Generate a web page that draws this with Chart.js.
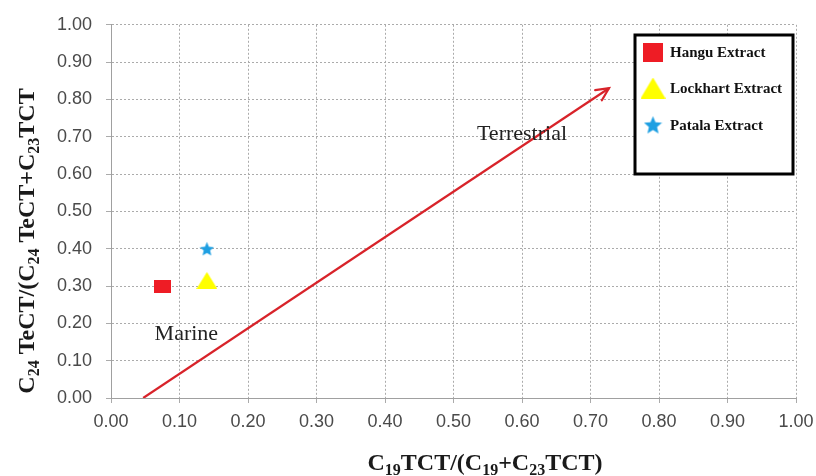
<!DOCTYPE html>
<html>
<head>
<meta charset="utf-8">
<script src="https://cdn.jsdelivr.net/npm/chart.js@4"></script>
<style>
  html, body { margin: 0; padding: 0; background: #fff; }
  #wrap { width: 816px; height: 476px; }
</style>
</head>
<body>
<div id="wrap"><canvas id="biomarkerChart"></canvas></div>
<script>
// data
const seriesNames = ['Hangu Extract', 'Lockhart Extract', 'Patala Extract'];
const hanguX = [0.075];
const hanguY = [0.30];
const lockhartX = [0.14];
const lockhartY = [0.315];
const patalaX = [0.14];
const patalaY = [0.40];
// red trend arrow, start and end
const arrowX = [0.047, 0.727];
const arrowY = [0.0, 0.83];
// annotation labels
const zoneNames = ['Terrestrial', 'Marine'];
const zoneX = [0.6, 0.11];
const zoneY = [0.706, 0.17];

const RED = '#ee1c25';
const YELLOW = '#ffff00';
const BLUE = '#1e9fe2';

function toPts(xs, ys) {
  return xs.map((x, i) => ({x: x, y: ys[i]}));
}

// little canvases used as point styles
function rectImg(w, h, color) {
  const c = document.createElement('canvas');
  c.width = w; c.height = h;
  const g = c.getContext('2d');
  g.fillStyle = color;
  g.fillRect(0, 0, w, h);
  return c;
}
function triImg(w, h, color) {
  const c = document.createElement('canvas');
  c.width = w; c.height = h;
  const g = c.getContext('2d');
  g.fillStyle = color;
  g.beginPath();
  g.moveTo(w / 2, 0);
  g.lineTo(w, h);
  g.lineTo(0, h);
  g.closePath();
  g.fill();
  return c;
}
function starImg(size, color) {
  const c = document.createElement('canvas');
  c.width = size; c.height = size;
  const g = c.getContext('2d');
  const cx = size / 2, cy = size / 2 + 0.8, R = size / 2, r = R * 0.45;
  g.fillStyle = color;
  g.beginPath();
  for (let i = 0; i < 10; i++) {
    const rad = i % 2 === 0 ? R : r;
    const a = -Math.PI / 2 + i * Math.PI / 5;
    const px = cx + rad * Math.cos(a), py = cy + rad * Math.sin(a);
    if (i === 0) g.moveTo(px, py); else g.lineTo(px, py);
  }
  g.closePath();
  g.fill();
  return c;
}

const markerImgs = [rectImg(17, 13, RED), triImg(21, 17, YELLOW), starImg(15, BLUE)];
const legendImgs = [rectImg(20, 19, RED), triImg(25, 21, YELLOW), starImg(19, BLUE)];

// draw text with subscript parts: parts = [[text, isSub], ...]
function richWidth(ctx, parts, mainFont, subFont) {
  let w = 0;
  parts.forEach(p => { ctx.font = p[1] ? subFont : mainFont; w += ctx.measureText(p[0]).width; });
  return w;
}
function drawRich(ctx, parts, x, y, mainFont, subFont, subShift) {
  let cx = x;
  parts.forEach(p => {
    ctx.font = p[1] ? subFont : mainFont;
    ctx.fillText(p[0], cx, p[1] ? y + subShift : y);
    cx += ctx.measureText(p[0]).width;
  });
}

const yTitle = [['C', false], ['24', true], [' TeCT/(C', false], ['24', true], [' TeCT+C', false], ['23', true], ['TCT', false]];
const xTitle = [['C', false], ['19', true], ['TCT/(C', false], ['19', true], ['+C', false], ['23', true], ['TCT)', false]];

const extrasPlugin = {
  id: 'extras',
  afterDatasetsDraw(chart) {
    const ctx = chart.ctx;
    const xs = chart.scales.x, ys = chart.scales.y;
    ctx.save();

    // arrow head at the end of the trend line
    const pts = chart.getDatasetMeta(3).data;
    const a = pts[0], b = pts[pts.length - 1];
    const ang = Math.atan2(b.y - a.y, b.x - a.x);
    ctx.strokeStyle = '#d8232a';
    ctx.lineWidth = 2.2;
    ctx.lineCap = 'round';
    ctx.beginPath();
    ctx.moveTo(b.x - 14 * Math.cos(ang - 0.45), b.y - 14 * Math.sin(ang - 0.45));
    ctx.lineTo(b.x, b.y);
    ctx.lineTo(b.x - 14 * Math.cos(ang + 0.45), b.y - 14 * Math.sin(ang + 0.45));
    ctx.stroke();

    // zone labels
    ctx.fillStyle = '#222';
    ctx.font = '22px "Liberation Serif"';
    ctx.textAlign = 'center';
    ctx.textBaseline = 'middle';
    zoneNames.forEach((t, i) => {
      ctx.fillText(t, xs.getPixelForValue(zoneX[i]), ys.getPixelForValue(zoneY[i]));
    });

    // legend box
    const lx = 635, ly = 35, lw = 158, lh = 139;
    ctx.fillStyle = '#fff';
    ctx.fillRect(lx, ly, lw, lh);
    ctx.strokeStyle = '#000';
    ctx.lineWidth = 3;
    ctx.strokeRect(lx, ly, lw, lh);
    const rowY = [52, 88, 125];
    ctx.textAlign = 'left';
    ctx.fillStyle = '#111';
    ctx.font = 'bold 15px "Liberation Serif"';
    seriesNames.forEach((n, i) => {
      const img = legendImgs[i];
      ctx.drawImage(img, 653 - img.width / 2, rowY[i] - img.height / 2);
      ctx.fillText(n, 670, rowY[i] + 1);
    });

    // axis titles
    ctx.fillStyle = '#1a1a1a';
    ctx.textBaseline = 'alphabetic';
    const mainF = 'bold 24px "Liberation Serif"', subF = 'bold 16px "Liberation Serif"';
    let w = richWidth(ctx, xTitle, mainF, subF);
    drawRich(ctx, xTitle, 485 - w / 2, 470, mainF, subF, 5);
    ctx.translate(34, 241);
    ctx.rotate(-Math.PI / 2);
    w = richWidth(ctx, yTitle, mainF, subF);
    drawRich(ctx, yTitle, -w / 2, 0, mainF, subF, 5);
    ctx.restore();
  }
};

const tickFont = {family: '"Liberation Sans"', size: 18};

const config = {
  type: 'scatter',
  data: {
    datasets: [
      {label: seriesNames[0], data: toPts(hanguX, hanguY), pointStyle: markerImgs[0], backgroundColor: RED},
      {label: seriesNames[1], data: toPts(lockhartX, lockhartY), pointStyle: markerImgs[1], backgroundColor: YELLOW},
      {label: seriesNames[2], data: toPts(patalaX, patalaY), pointStyle: markerImgs[2], backgroundColor: BLUE},
      {type: 'line', label: 'trend', data: toPts(arrowX, arrowY), borderColor: '#d8232a', borderWidth: 2.2,
       pointRadius: 0, showLine: true, fill: false}
    ]
  },
  options: {
    responsive: true,
    maintainAspectRatio: false,
    animation: false,
    layout: {padding: {left: 0, right: 0, top: 24, bottom: 0}},
    plugins: {
      legend: {display: false},
      tooltip: {enabled: false}
    },
    scales: {
      x: {
        type: 'linear', min: 0, max: 1,
        afterFit: s => { s.height = 78; s.paddingRight = 20; },
        ticks: {stepSize: 0.1, callback: v => v.toFixed(2), color: '#4a4a4a', font: tickFont, padding: 8, maxRotation: 0},
        grid: {color: '#ababab', tickLength: 5, lineWidth: 1},
        border: {display: true, color: '#a0a0a0', dash: [2, 2]}
      },
      y: {
        type: 'linear', min: 0, max: 1,
        afterFit: s => { s.width = 111; },
        ticks: {stepSize: 0.1, callback: v => v.toFixed(2), color: '#4a4a4a', font: tickFont, padding: 14},
        grid: {color: '#ababab', tickLength: 5, lineWidth: 1},
        border: {display: true, color: '#a0a0a0', dash: [2, 2]}
      }
    }
  },
  plugins: [extrasPlugin]
};

let biomarkerChart = new Chart(document.getElementById('biomarkerChart'), config);
</script>
</body>
</html>
